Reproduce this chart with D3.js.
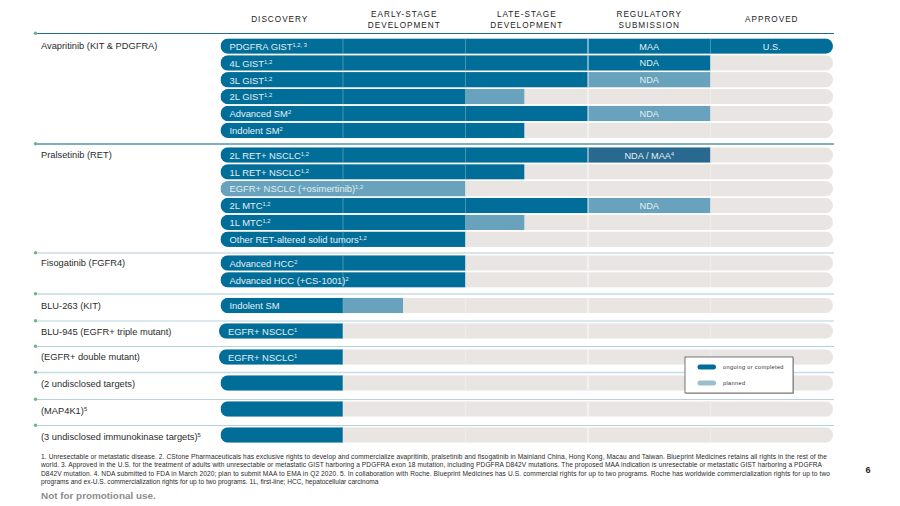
<!DOCTYPE html>
<html>
<head>
<meta charset="utf-8">
<script src="https://cdnjs.cloudflare.com/ajax/libs/d3/7.8.5/d3.min.js"></script>
<style>
  html, body { margin: 0; padding: 0; background: #fff; }
  text { font-family: "Liberation Sans", Arial, sans-serif; }
</style>
</head>
<body>
<div id="chart"></div>
<script>
// stage names, two lines where the header wraps
const stages = [
  ['DISCOVERY'],
  ['EARLY-STAGE', 'DEVELOPMENT'],
  ['LATE-STAGE', 'DEVELOPMENT'],
  ['REGULATORY', 'SUBMISSION'],
  ['APPROVED']
];

const programs = [
  'Avapritinib (KIT & PDGFRA)', 'Pralsetinib (RET)', 'Fisogatinib (FGFR4)', 'BLU-263 (KIT)',
  'BLU-945 (EGFR+ triple mutant)', '(EGFR+ double mutant)', '(2 undisclosed targets)',
  '(MAP4K1)', '(3 undisclosed immunokinase targets)'
];
const programNotes = ['', '', '', '', '', '', '', '5', '5'];

// one entry per bar
const rowProgram = [0, 0, 0, 0, 0, 0, 1, 1, 1, 1, 1, 1, 2, 2, 3, 4, 5, 6, 7, 8];
const rowLabels = [
  'PDGFRA GIST', '4L GIST', '3L GIST', '2L GIST', 'Advanced SM', 'Indolent SM',
  '2L RET+ NSCLC', '1L RET+ NSCLC', 'EGFR+ NSCLC (+osimertinib)', '2L MTC', '1L MTC', 'Other RET-altered solid tumors',
  'Advanced HCC', 'Advanced HCC (+CS-1001)', 'Indolent SM', 'EGFR+ NSCLC', 'EGFR+ NSCLC', '', '', ''
];
const rowNotes = [
  '1,2, 3', '1,2', '1,2', '1,2', '2', '2',
  '1,2', '1,2', '1,2', '1,2', '1,2', '1,2',
  '2', '2', '', '1', '1', '', '', ''
];
// progress in stage units (1 = one full column)
const ongoing = [5, 4, 3, 2, 3, 2.48, 3, 2.48, 0, 3, 2, 2, 2, 2, 1, 1, 1, 1, 1, 1];
const submitted = [0, 0, 0, 0, 0, 0, 4, 0, 0, 0, 0, 0, 0, 0, 0, 0, 0, 0, 0, 0];
const planned = [0, 0, 4, 2.48, 4, 0, 0, 0, 2, 4, 2.48, 0, 0, 0, 1.49, 0, 0, 0, 0, 0];
const stageNotes = [
  ['MAA', 'U.S.'], ['NDA'], ['NDA'], [], ['NDA'], [],
  ['NDA / MAA'], [], [], ['NDA'], [], [],
  [], [], [], [], [], [], [], []
];

const legendItems = ['ongoing or completed', 'planned'];
const footnotes = [
  '1. Unresectable or metastatic disease. 2. CStone Pharmaceuticals has exclusive rights to develop and commercialize avapritinib, pralsetinib and fisogatinib in Mainland China, Hong Kong, Macau and Taiwan. Blueprint Medicines retains all rights in the rest of the',
  'world. 3. Approved in the U.S. for the treatment of adults with unresectable or metastatic GIST harboring a PDGFRA exon 18 mutation, including PDGFRA D842V mutations. The proposed MAA indication is unresectable or metastatic GIST harboring a PDGFRA',
  'D842V mutation. 4. NDA submitted to FDA in March 2020; plan to submit MAA to EMA in Q2 2020. 5. In collaboration with Roche. Blueprint Medicines has U.S. commercial rights for up to two programs. Roche has worldwide commercialization rights for up to two',
  'programs and ex-U.S. commercialization rights for up to two programs. 1L, first-line; HCC, hepatocellular carcinoma'
];

const width = 900, height = 506;
const barH = 15.4, rowStep = 16.85;
const DARK = '#006e99', LIGHT = '#68a2bc', FILED = '#29688f', EMPTY = '#e8e5e2';

// layout of the program blocks: rule position and its look
const groupTop = [33.5, 144, 253, 294, 321, 346.5, 372.5, 399.5, 425.5];
const ruleColor = ['#1f6f8c', '#7fb0c0', '#d6e6ec', '#a9ccd8', '#b6d3dd', '#b6d3dd', '#c5dce4', '#b6d3dd', '#b6d3dd'];
const ruleWidth = [1, 2, 2, 1, 1, 1, 1.5, 1, 1];
const barOffset = [0, 0, 0, 0, -1.5, -1.5, 0, 0, 0];
const rowOffset = [4.9, 3.3, 2.3, 3.8, 2.3, 2.8, 2.8, 1.8, 1.8];
const labelOffset = [15, 14, 12.5, 14.5, 13.5, 13, 14, 14, 14.5];

const x = d3.scaleLinear().domain([0, 5]).range([220.5, 833]);

const svg = d3.select('#chart').append('svg')
  .attr('width', width)
  .attr('height', height)
  .style('display', 'block');

// header
stages.forEach((lines, i) => {
  const t = svg.append('text')
    .attr('text-anchor', 'middle')
    .attr('font-size', 8.2)
    .attr('letter-spacing', 1)
    .attr('fill', '#222');
  lines.forEach((line, j) => {
    const base = lines.length === 1 ? 22 : 17 + j * 10.5;
    t.append('tspan')
      .attr('x', (x(i) + x(i + 1)) / 2 - (i === 0 ? 2 : 0))
      .attr('y', base)
      .text(line);
  });
});

// program rules, dots and names
programs.forEach((name, i) => {
  const y = groupTop[i];
  svg.append('line')
    .attr('x1', 35).attr('x2', 834)
    .attr('y1', y).attr('y2', y)
    .attr('stroke', ruleColor[i])
    .attr('stroke-width', ruleWidth[i]);
  svg.append('circle')
    .attr('cx', 35.5).attr('cy', y - 0.3).attr('r', 1.7)
    .attr('fill', '#6fb58a');
  const t = svg.append('text')
    .attr('x', 41)
    .attr('y', y + labelOffset[i])
    .attr('font-size', 9.3)
    .attr('fill', '#2b2b2b')
    .text(name);
  if (programNotes[i]) {
    t.append('tspan').attr('font-size', 5.8).attr('dy', -3).text(programNotes[i]);
  }
});

const seen = {};
const defs = svg.append('defs');
rowLabels.forEach((label, i) => {
  const p = rowProgram[i];
  seen[p] = (seen[p] || 0) + 1;
  const cy = groupTop[p] + rowOffset[p] + barH / 2 + (seen[p] - 1) * rowStep;
  const top = cy - barH / 2;
  const dx = barOffset[p];

  // the pill shape clips everything in the row
  const clipId = 'row-' + i;
  defs.append('clipPath').attr('id', clipId).append('rect')
    .attr('x', x(0) + dx).attr('y', top)
    .attr('width', x(5) - x(0) - dx).attr('height', barH)
    .attr('rx', barH / 2);
  const g = svg.append('g').attr('clip-path', `url(#${clipId})`);

  const seg = (from, to, color) => g.append('rect')
    .attr('x', x(from) + (from === 0 ? dx : 0)).attr('y', top)
    .attr('width', x(to) - x(from) - (from === 0 ? dx : 0)).attr('height', barH)
    .attr('fill', color);

  seg(0, 5, EMPTY);
  if (planned[i]) seg(ongoing[i], planned[i], LIGHT);
  if (submitted[i]) seg(ongoing[i], submitted[i], FILED);
  if (ongoing[i]) seg(0, ongoing[i], DARK);

  // column separators show through the bars
  [1, 2, 3, 4].forEach(s => {
    const end = Math.max(ongoing[i], planned[i], submitted[i]);
    g.append('line')
      .attr('x1', x(s)).attr('x2', x(s))
      .attr('y1', top).attr('y2', top + barH)
      .attr('stroke', s === 3 ? '#fff' : (s < end ? '#7db4cc' : '#f4f2f0'))
      .attr('stroke-width', s === 3 ? 1 : 0.7)
      .attr('opacity', s === 3 ? 0.9 : 0.8);
  });

  if (label) {
    const t = svg.append('text')
      .attr('x', x(0) + 9 + dx)
      .attr('y', cy + 3.7)
      .attr('font-size', 9.4)
      .attr('fill', '#e4eff4')
      .text(label);
    if (rowNotes[i]) {
      t.append('tspan').attr('font-size', 5.8).attr('dy', -3).text(rowNotes[i]);
    }
  }

  stageNotes[i].forEach((note, k) => {
    const t = svg.append('text')
      .attr('x', (x(3 + k) + x(4 + k)) / 2)
      .attr('y', cy + 3.5)
      .attr('text-anchor', 'middle')
      .attr('font-size', 9.2)
      .attr('fill', '#e4eff4')
      .text(note);
    if (note === 'NDA / MAA') {
      t.append('tspan').attr('font-size', 5.5).attr('dy', -3).text('4');
    }
  });
});

// legend box
const legend = svg.append('g').attr('transform', 'translate(685,357)');
legend.append('rect')
  .attr('x', 1).attr('y', 1).attr('width', 108).attr('height', 36)
  .attr('fill', '#9a9a9a').attr('opacity', 0.6);
legend.append('rect')
  .attr('width', 108).attr('height', 36)
  .attr('fill', '#fff')
  .attr('stroke', '#555').attr('stroke-width', 0.8);
legendItems.forEach((item, i) => {
  legend.append('rect')
    .attr('x', 12.5).attr('y', 7.5 + i * 16)
    .attr('width', 18.5).attr('height', 5).attr('rx', 2.5)
    .attr('fill', i === 0 ? DARK : '#9cbfce');
  legend.append('text')
    .attr('x', 38).attr('y', 12 + i * 16)
    .attr('font-size', 5.6)
    .attr('letter-spacing', 0.35)
    .attr('fill', '#333')
    .text(item);
});

// footnotes
footnotes.forEach((line, i) => {
  svg.append('text')
    .attr('x', 41)
    .attr('y', 458.5 + i * 8.6)
    .attr('font-size', 6.6)
    .attr('fill', '#2a2a2a')
    .attr('textLength', i < 3 ? 790 - (i === 1 ? 9 : (i === 2 ? 1 : 4)) : null)
    .text(line);
});

svg.append('text')
  .attr('x', 41).attr('y', 499)
  .attr('font-size', 9.9)
  .attr('font-weight', 'bold')
  .attr('fill', '#8c8c8c')
  .text('Not for promotional use.');

svg.append('text')
  .attr('x', 868).attr('y', 473)
  .attr('text-anchor', 'middle')
  .attr('font-size', 9)
  .attr('font-weight', 'bold')
  .attr('fill', '#222')
  .text('6');
</script>
</body>
</html>
